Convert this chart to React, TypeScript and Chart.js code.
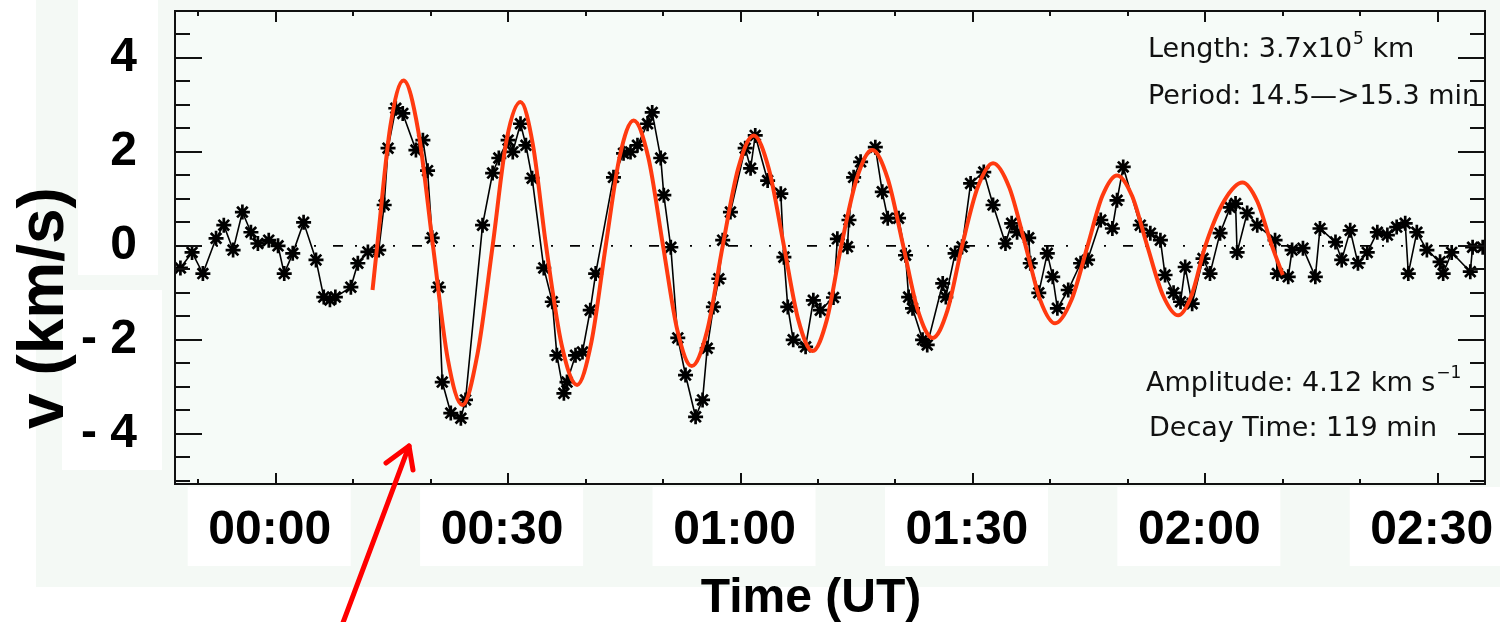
import React, { useEffect, useRef } from "react";
import { Chart, registerables } from "chart.js";
Chart.register(...registerables);

// ---- data ----
const obsTime = [-12.3,-10.8,-9.4,-7.7,-6.7,-5.5,-4.3,-3.2,-2.3,-0.9,0.3,1.1,2.2,3.6,5.2,6.2,7.0,7.7,9.7,10.6,11.9,13.3,14.0,14.5,15.5,16.4,18.1,19.0,19.6,20.2,21.0,21.5,22.6,23.9,24.5,26.7,28.0,28.8,30.0,30.6,31.6,32.3,33.1,34.6,35.7,36.3,37.2,37.6,38.7,39.6,40.6,41.3,43.6,44.9,45.8,46.7,48.0,48.6,49.7,50.1,51.0,51.9,52.9,54.2,55.1,55.7,56.5,57.2,57.7,58.7,60.6,61.3,61.9,63.5,65.2,65.6,66.1,66.8,68.4,69.4,70.3,72.0,72.5,73.8,74.0,74.6,75.5,77.4,78.3,79.0,80.4,81.3,81.7,82.2,83.5,84.1,86.1,86.5,87.7,88.6,89.7,91.4,92.6,94.2,95.0,95.7,97.2,97.4,98.5,99.6,100.3,100.9,102.3,103.9,104.8,106.5,108.0,108.6,109.4,111.6,112.9,114.2,114.8,115.9,116.8,117.4,118.3,119.7,120.6,121.9,123.2,123.9,124.1,125.4,126.7,129.0,129.3,130.7,131.2,132.6,134.2,134.8,136.8,137.6,138.7,139.7,140.9,142.2,143.5,144.7,145.8,146.2,147.3,148.6,150.3,150.7,151.8,154.2,154.5,155.8];
const obsVel = [-0.47,-0.14,-0.59,0.16,0.44,-0.09,0.72,0.29,0.05,0.12,0.0,-0.59,-0.16,0.5,-0.3,-1.09,-1.15,-1.09,-0.88,-0.37,-0.13,-0.09,0.87,2.08,2.93,2.82,2.04,2.25,1.6,0.17,-0.88,-2.9,-3.56,-3.67,-3.28,0.44,1.55,1.87,2.25,2.0,2.6,2.14,1.44,-0.47,-1.19,-2.33,-3.14,-2.9,-2.33,-2.26,-1.37,-0.59,1.46,1.97,2.0,2.14,2.6,2.84,1.87,1.08,-0.03,-1.96,-2.75,-3.64,-3.28,-2.18,-1.3,-0.7,0.12,0.72,2.08,1.65,2.35,1.39,1.11,-0.24,-1.3,-2.0,-2.15,-1.16,-1.37,-1.1,0.15,-0.02,0.55,1.46,1.79,2.1,1.15,0.59,0.59,-0.2,-1.09,-1.33,-2.0,-2.11,-0.8,-1.09,-0.16,-0.02,1.33,1.57,0.87,0.05,0.48,0.29,0.17,-0.37,-1.0,-0.16,-0.66,-1.33,-0.94,-0.37,-0.3,0.55,0.37,0.97,1.68,0.44,0.27,0.12,-0.62,-1.0,-1.19,-0.45,-1.23,-0.27,-0.59,0.27,0.82,0.9,-0.14,0.7,0.44,0.12,-0.59,-0.66,-0.09,-0.05,-0.66,0.37,0.08,-0.3,0.33,-0.37,-0.14,0.29,0.23,0.4,0.48,-0.59,0.29,-0.09,-0.34,-0.59,-0.14,-0.55,-0.03,-0.03];

const fitTime = [12.5,13.1,14.8,16.5,18.4,20.3,22.2,24.1,26.05,28.0,29.8,31.6,33.2,34.9,36.9,38.9,40.75,42.6,44.4,46.2,48.1,50.0,51.85,53.7,55.7,57.7,59.7,61.7,63.65,65.6,67.45,69.3,71.15,73.0,75.0,77.0,79.0,81.0,82.9,84.8,86.7,88.6,90.6,92.6,94.7,96.8,98.7,100.6,102.7,104.8,106.7,108.6,110.55,112.5,114.5,116.5,118.25,120.0,122.4,124.8,126.7,128.6,130.0];
const fitVel = [-0.94,0,2.55,3.52,2.45,0,-2.4,-3.39,-2.3,0,2.25,3.06,2.15,0,-2.1,-2.96,-2.05,0,1.9,2.67,1.88,0,-1.8,-2.56,-1.8,0,1.65,2.35,1.64,0,-1.57,-2.24,-1.57,0,1.43,2.04,1.43,0,-1.38,-1.96,-1.38,0,1.24,1.76,1.24,0,-1.16,-1.65,-1.16,0,1.06,1.5,1.06,0,-1.04,-1.48,-1.04,0,0.95,1.35,0.95,0,-0.62];

const xTickValues = [0, 30, 60, 90, 120, 150];
const xTickLabels = ["00:00", "00:30", "01:00", "01:30", "02:00", "02:30"];
const yTickValues = [-4, -2, 0, 2, 4];
const yTickLabels = ["- 4", "- 2", "0", "2", "4"];
const xMin = -13;
const xMax = 156.1;
const yMin = -5.07;
const yMax = 5;
const xMinorStep = 10;
const yMinorStep = 0.5;

const xTitle = "Time (UT)";
const yTitle = "v (km/s)";
const annotTop = [
  { main: "Length: 3.7x10", sup: "5", tail: " km" },
  { main: "Period: 14.5\u2014>15.3 min", sup: "", tail: "" },
];
const annotBottom = [
  { main: "Amplitude: 4.12 km s", sup: "\u22121", tail: "" },
  { main: "Decay Time: 119 min", sup: "", tail: "" },
];

const MINT = "#f4f9f5";
const PLOT_BG = "#f6fbf8";
const LABEL_SHIFT = -6;

const zeroPad = (s: any) => {
  s.paddingTop = 0;
  s.paddingBottom = 0;
  s.paddingLeft = 0;
  s.paddingRight = 0;
};

const decorPlugin = {
  id: "decor",
  beforeDraw(chart: any) {
    const { ctx, chartArea: a, scales } = chart;
    ctx.save();
    ctx.fillStyle = "#ffffff";
    ctx.fillRect(0, 0, chart.width, chart.height);
    ctx.fillStyle = MINT;
    ctx.fillRect(36, 0, chart.width - 36, 587);
    ctx.fillStyle = "#ffffff";
    ctx.fillRect(78, 0, 80, 275);
    ctx.fillRect(62, 290, 100, 180);
    xTickValues.forEach((v) => {
      const px = scales.x.getPixelForValue(v) + LABEL_SHIFT;
      ctx.fillRect(px - 82, 487, 163, 79);
    });
    ctx.fillStyle = PLOT_BG;
    ctx.fillRect(a.left, a.top, a.right - a.left, a.bottom - a.top);
    ctx.restore();
  },
  beforeDatasetsDraw(chart: any) {
    const { ctx, chartArea: a, scales } = chart;
    const y0 = scales.y.getPixelForValue(0);
    ctx.save();
    ctx.strokeStyle = "#000";
    ctx.lineWidth = 1.8;
    ctx.setLineDash([10, 12, 2, 17, 2, 17, 2, 17]);
    ctx.beginPath();
    ctx.moveTo(a.left, y0);
    ctx.lineTo(a.right, y0);
    ctx.stroke();
    ctx.restore();
  },
  afterDatasetsDraw(chart: any) {
    const { ctx, chartArea: a, scales } = chart;
    ctx.save();
    ctx.strokeStyle = "#111";
    ctx.lineWidth = 2;
    ctx.beginPath();
    for (let v = Math.ceil(xMin / xMinorStep) * xMinorStep; v <= xMax; v += xMinorStep) {
      const px = Math.round(scales.x.getPixelForValue(v));
      const len = v % 30 === 0 ? 11 : 5;
      ctx.moveTo(px, a.bottom);
      ctx.lineTo(px, a.bottom - len);
      ctx.moveTo(px, a.top);
      ctx.lineTo(px, a.top + len);
    }
    for (let v = Math.ceil(yMin / yMinorStep) * yMinorStep; v <= yMax; v += yMinorStep) {
      const py = Math.round(scales.y.getPixelForValue(v));
      const len = Math.abs(v % 2) < 1e-6 ? 27 : 15;
      ctx.moveTo(a.left, py);
      ctx.lineTo(a.left + len, py);
      ctx.moveTo(a.right, py);
      ctx.lineTo(a.right - len, py);
    }
    ctx.stroke();
    ctx.strokeRect(a.left, a.top, a.right - a.left, a.bottom - a.top);
    ctx.restore();
  },
  afterDraw(chart: any) {
    const { ctx, chartArea: a } = chart;
    ctx.save();
    ctx.beginPath();
    ctx.rect(a.left, a.top, a.right - a.left - 1, a.bottom - a.top);
    ctx.clip();
    ctx.fillStyle = "#111";
    ctx.textBaseline = "alphabetic";
    const drawAnn = (item: any, x: number, y: number) => {
      ctx.font = '27px "DejaVu Sans"';
      ctx.fillText(item.main, x, y);
      let cx = x + ctx.measureText(item.main).width + 1;
      if (item.sup) {
        ctx.font = '17px "DejaVu Sans"';
        ctx.fillText(item.sup, cx, y - 13);
        cx += ctx.measureText(item.sup).width;
      }
      if (item.tail) {
        ctx.font = '27px "DejaVu Sans"';
        ctx.fillText(item.tail, cx, y);
      }
    };
    drawAnn(annotTop[0], 1148, 57);
    drawAnn(annotTop[1], 1148, 104);
    drawAnn(annotBottom[0], 1146, 391);
    drawAnn(annotBottom[1], 1149, 436);
    ctx.restore();

    ctx.save();
    ctx.fillStyle = "#000";
    ctx.font = 'bold 48px "Liberation Sans", Arial, sans-serif';
    ctx.textAlign = "center";
    ctx.textBaseline = "alphabetic";
    ctx.fillText(xTitle, 811, 612);
    ctx.translate(63, 308);
    ctx.rotate(-Math.PI / 2);
    ctx.font = 'bold 64px "Liberation Sans", Arial, sans-serif';
    ctx.fillText(yTitle, 0, 0);
    ctx.restore();

    ctx.save();
    ctx.strokeStyle = "#ff0000";
    ctx.lineWidth = 5;
    ctx.lineCap = "round";
    ctx.lineJoin = "round";
    ctx.beginPath();
    ctx.moveTo(341, 628);
    ctx.lineTo(409, 446);
    ctx.stroke();
    ctx.beginPath();
    ctx.moveTo(386, 463);
    ctx.lineTo(409, 446);
    ctx.lineTo(413, 470);
    ctx.stroke();
    ctx.restore();
  },
};

export default function App() {
  const ref = useRef<HTMLCanvasElement | null>(null);
  useEffect(() => {
    if (!ref.current) return;
    Chart.defaults.font.family = '"Liberation Sans", Arial, sans-serif';
    const chart = new Chart(ref.current, {
      type: "scatter",
      data: {
        datasets: [
          {
            label: "fit",
            data: fitTime.map((t, i) => ({ x: t, y: fitVel[i] })),
            showLine: true,
            borderColor: "#ff3a10",
            borderWidth: 4,
            pointRadius: 0,
            cubicInterpolationMode: "monotone",
            order: 0,
          },
          {
            label: "observed",
            data: obsTime.map((t, i) => ({ x: t, y: obsVel[i] })),
            showLine: true,
            borderColor: "#000",
            borderWidth: 1.6,
            tension: 0,
            pointStyle: "star",
            pointRadius: 7.5,
            pointBorderWidth: 2.7,
            pointBorderColor: "#000",
            pointBackgroundColor: "#000",
            order: 1,
          },
        ],
      },
      options: {
        animation: false,
        responsive: false,
        devicePixelRatio: 1,
        layout: { padding: { top: 11, right: 15, left: 0, bottom: 0 } },
        plugins: { legend: { display: false }, tooltip: { enabled: false } },
        scales: {
          x: {
            type: "linear",
            min: xMin,
            max: xMax,
            afterBuildTicks: (s: any) => {
              s.ticks = xTickValues.map((v) => ({ value: v }));
            },
            afterFit: (s: any) => {
              s.height = 138;
              zeroPad(s);
            },
            ticks: {
              autoSkip: false,
              maxRotation: 0,
              padding: 18,
              labelOffset: LABEL_SHIFT,
              color: "#000",
              font: { size: 48, weight: "bold" },
              callback: (_v: any, i: number) => xTickLabels[i],
            },
            grid: { display: false, drawTicks: false },
            border: { display: false },
          },
          y: {
            type: "linear",
            min: yMin,
            max: yMax,
            afterBuildTicks: (s: any) => {
              s.ticks = yTickValues.map((v) => ({ value: v }));
            },
            afterFit: (s: any) => {
              s.width = 175;
              zeroPad(s);
            },
            ticks: {
              padding: 38,
              color: "#000",
              font: { size: 48, weight: "bold" },
              callback: (_v: any, i: number) => yTickLabels[i],
            },
            grid: { display: false, drawTicks: false },
            border: { display: false },
          },
        },
      },
      plugins: [decorPlugin],
    } as any);
    return () => chart.destroy();
  }, []);
  return (
    <div style={{ position: "absolute", left: 0, top: 0, width: 1500, height: 622 }}>
      <canvas ref={ref} width={1500} height={622} />
    </div>
  );
}
